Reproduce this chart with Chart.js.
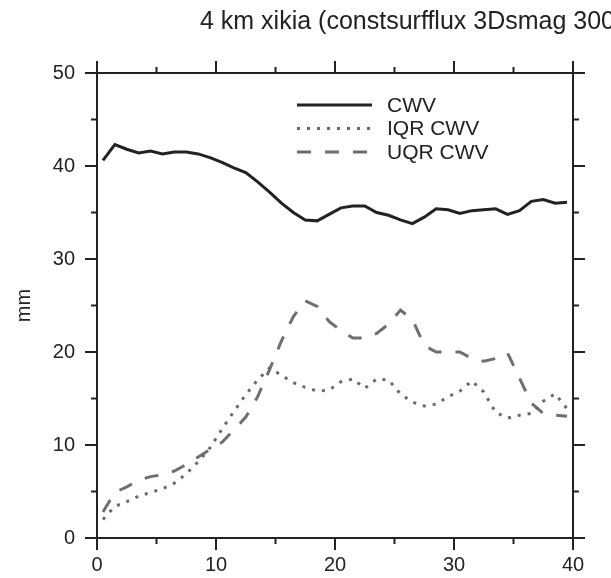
<!DOCTYPE html>
<html>
<head>
<meta charset="utf-8">
<script src="https://cdn.jsdelivr.net/npm/chart.js@4.4.1/dist/chart.umd.min.js"></script>
<style>
  html, body { margin: 0; padding: 0; background: #fff; }
  #chart_container { width: 611px; height: 578px; }
</style>
</head>
<body>
<div id="chart_container"><canvas id="cwv_canvas" width="611" height="578"></canvas></div>
<script>
// sample positions (x) and column water vapour series
var distance = [0.5, 1.5, 2.5, 3.5, 4.5, 5.5, 6.5, 7.5, 8.5, 9.5,
    10.5, 11.5, 12.5, 13.5, 14.5, 15.5, 16.5, 17.5, 18.5, 19.5,
    20.5, 21.5, 22.5, 23.5, 24.5, 25.5, 26.5, 27.5, 28.5, 29.5,
    30.5, 31.5, 32.5, 33.5, 34.5, 35.5, 36.5, 37.5, 38.5, 39.5];
var cwv = [40.6, 42.3, 41.8, 41.4, 41.6, 41.3, 41.5, 41.5, 41.3, 40.9,
    40.4, 39.8, 39.3, 38.3, 37.2, 36.0, 35.0, 34.2, 34.1, 34.8,
    35.5, 35.7, 35.7, 35.0, 34.7, 34.2, 33.8, 34.5, 35.4, 35.3,
    34.9, 35.2, 35.3, 35.4, 34.8, 35.2, 36.2, 36.4, 36.0, 36.1];
var iqrCwv = [2.0, 3.4, 3.9, 4.5, 4.9, 5.3, 5.9, 6.9, 8.2, 9.7,
    11.7, 13.6, 15.4, 17.0, 18.3, 17.5, 16.7, 16.2, 15.8, 15.9,
    16.8, 17.1, 16.1, 17.1, 17.0, 15.5, 14.6, 14.2, 14.4, 15.2,
    15.8, 16.9, 15.7, 13.5, 12.9, 13.2, 13.4, 14.7, 15.5, 13.9];
var uqrCwv = [2.8, 4.9, 5.5, 6.2, 6.6, 6.8, 7.2, 7.9, 8.7, 9.5,
    10.3, 11.6, 13.0, 15.2, 18.1, 21.2, 23.8, 25.5, 24.9, 23.3,
    22.3, 21.5, 21.5, 22.0, 23.0, 24.5, 23.5, 20.7, 20.0, 20.0,
    20.0, 19.3, 19.0, 19.3, 19.9, 17.2, 14.5, 13.4, 13.2, 13.1];

var seriesNames = ['CWV', 'IQR CWV', 'UQR CWV'];
var xRange = [0, 40];
var yRange = [0, 50];
var majorStep = 10;
var minorStep = 5;
var titleText = '4 km xikia (constsurfflux 3Dsmag 300';
var yAxisLabel = 'mm';

function toPoints(values) {
    return distance.map(function (d, i) { return { x: d, y: values[i] }; });
}

var ink = '#222222';

// frame, inward-free tick marks, title, y label and the inset key
var framePlugin = {
    id: 'frame',
    afterDraw: function (chart) {
        var ctx = chart.ctx;
        var a = chart.chartArea;
        var xs = chart.scales.x;
        var ys = chart.scales.y;
        ctx.save();
        ctx.strokeStyle = ink;
        ctx.lineWidth = 2;
        ctx.strokeRect(a.left, a.top, a.right - a.left, a.bottom - a.top);
        ctx.beginPath();
        var v, len, p;
        for (v = xRange[0]; v <= xRange[1]; v += minorStep) {
            len = v % majorStep === 0 ? 12 : 6;
            p = xs.getPixelForValue(v);
            ctx.moveTo(p, a.bottom); ctx.lineTo(p, a.bottom + len);
            ctx.moveTo(p, a.top); ctx.lineTo(p, a.top - len);
        }
        for (v = yRange[0]; v <= yRange[1]; v += minorStep) {
            len = v % majorStep === 0 ? 12 : 6;
            p = ys.getPixelForValue(v);
            ctx.moveTo(a.left, p); ctx.lineTo(a.left - len, p);
            ctx.moveTo(a.right, p); ctx.lineTo(a.right + len, p);
        }
        ctx.stroke();

        ctx.fillStyle = ink;
        ctx.font = '25px "Liberation Sans", Arial, sans-serif';
        ctx.textAlign = 'left';
        ctx.textBaseline = 'alphabetic';
        ctx.fillText(titleText, 200, 29);

        ctx.save();
        ctx.translate(24, (a.top + a.bottom) / 2);
        ctx.rotate(-Math.PI / 2);
        ctx.textAlign = 'center';
        ctx.textBaseline = 'middle';
        ctx.font = '20px "Liberation Sans", Arial, sans-serif';
        ctx.fillText(yAxisLabel, 0, 0);
        ctx.restore();

        // key
        ctx.font = '21px "Liberation Sans", Arial, sans-serif';
        ctx.textBaseline = 'middle';
        chart.data.datasets.forEach(function (ds, i) {
            var y = 105 + i * 23.5;
            ctx.beginPath();
            ctx.strokeStyle = ds.borderColor;
            ctx.lineWidth = ds.borderWidth;
            ctx.setLineDash(ds.borderDash || []);
            ctx.moveTo(297, y);
            ctx.lineTo(372, y);
            ctx.stroke();
            ctx.setLineDash([]);
            ctx.fillStyle = ink;
            ctx.fillText(ds.label, 387, y + 1);
        });
        ctx.restore();
    }
};

new Chart(document.getElementById('cwv_canvas'), {
    type: 'line',
    data: {
        datasets: [
            {
                label: seriesNames[0],
                data: toPoints(cwv),
                borderColor: '#222222',
                borderWidth: 3,
                pointRadius: 0,
                fill: false
            }, {
                label: seriesNames[1],
                data: toPoints(iqrCwv),
                borderColor: '#6a6a6a',
                borderWidth: 3,
                borderDash: [3, 7],
                pointRadius: 0,
                fill: false
            }, {
                label: seriesNames[2],
                data: toPoints(uqrCwv),
                borderColor: '#6f6f6f',
                borderWidth: 3,
                borderDash: [14, 14],
                pointRadius: 0,
                fill: false
            }
        ]
    },
    options: {
        responsive: false,
        animation: false,
        devicePixelRatio: 1,
        layout: {
            padding: { top: 73, right: 38, left: 0, bottom: 0 }
        },
        plugins: {
            legend: { display: false },
            title: { display: false },
            tooltip: { enabled: false }
        },
        scales: {
            x: {
                type: 'linear',
                min: xRange[0],
                max: xRange[1],
                grid: { display: false, tickLength: 12 },
                border: { display: false },
                ticks: {
                    stepSize: majorStep,
                    padding: 3,
                    color: ink,
                    maxRotation: 0,
                    font: { family: '"Liberation Sans", Arial, sans-serif', size: 20 }
                },
                afterFit: function (scale) { scale.height = 40; }
            },
            y: {
                type: 'linear',
                min: yRange[0],
                max: yRange[1],
                grid: { display: false, tickLength: 12 },
                border: { display: false },
                ticks: {
                    stepSize: majorStep,
                    padding: 10,
                    color: ink,
                    font: { family: '"Liberation Sans", Arial, sans-serif', size: 20 }
                },
                afterFit: function (scale) { scale.width = 97; }
            }
        }
    },
    plugins: [framePlugin]
});
</script>
</body>
</html>
